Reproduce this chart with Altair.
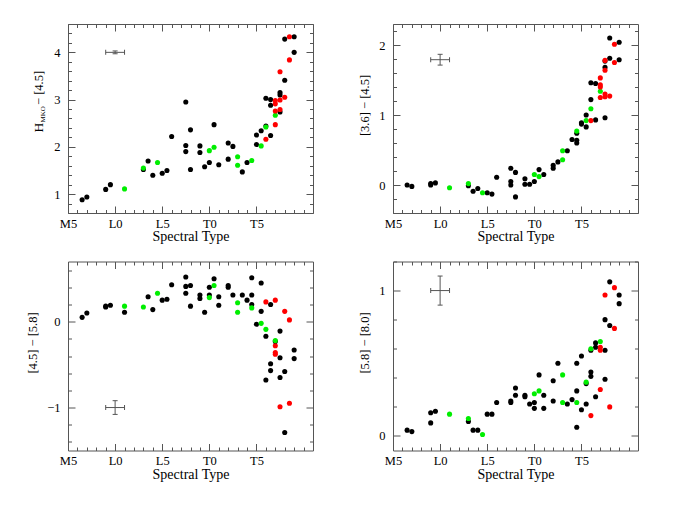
import math
import altair as alt
import pandas as pd

# ---------------- data ----------------
# x: spectral type as number (M5=5, L0=10, L5=15, T0=20, T5=25)
p1_black_x = [6.5, 7, 9, 9.5, 13, 13.5, 14, 15, 15.5, 16, 17.5, 17.5, 17.5, 18, 18, 19, 19, 19.5, 20, 20.5, 21, 22, 22.5, 22, 23.5, 24, 25, 25, 25.5, 26, 26.5, 26, 26.5, 26.5, 27.5, 27.5, 27.5, 28, 28, 29, 29]
p1_black_y = [0.88, 0.94, 1.10, 1.20, 1.52, 1.70, 1.40, 1.44, 1.50, 2.22, 2.95, 2.03, 1.90, 2.36, 1.52, 2.02, 1.88, 1.58, 1.67, 2.47, 1.62, 2.08, 2.01, 1.74, 1.47, 1.67, 2.25, 2.05, 2.34, 2.44, 2.24, 3.03, 3.00, 2.88, 3.15, 3.10, 2.74, 3.41, 4.28, 4.33, 4.00]
p1_green_x = [11, 13, 14.5, 20, 20.5, 23, 23, 24.5, 25.5, 26, 27]
p1_green_y = [1.11, 1.55, 1.67, 1.92, 1.99, 1.79, 1.61, 1.71, 2.02, 2.42, 2.67]
p1_red_x = [28.5, 28.5, 27.5, 27, 27, 27.5, 28, 27, 27.5, 27, 26]
p1_red_y = [4.33, 3.84, 3.59, 2.98, 2.91, 2.99, 3.05, 2.76, 2.79, 2.47, 2.16]

p2_black_x = [6.5, 7, 9, 9, 9.5, 13, 13.5, 14, 15, 15.5, 16, 17.5, 17.5, 17.5, 18, 18, 19, 19, 19.5, 20, 20.5, 21, 22, 22, 22.5, 23.5, 24, 24.5, 24.5, 24.5, 25, 25, 25.5, 25.5, 26, 26, 26.5, 26.5, 27.5, 27.5, 27.5, 28, 28, 29, 29]
p2_black_y = [0.0, -0.02, 0.02, 0.0, 0.03, -0.01, -0.09, -0.05, -0.11, -0.13, 0.11, 0.24, 0.05, 0.0, 0.18, -0.17, 0.09, 0.01, 0.01, 0.05, 0.22, 0.15, 0.28, 0.24, 0.33, 0.49, 0.65, 0.64, 0.60, 0.74, 0.89, 0.87, 1.0, 0.83, 1.22, 1.46, 1.45, 0.93, 1.77, 1.68, 0.96, 1.81, 2.10, 2.04, 1.79]
p2_green_x = [11, 13, 14.5, 20, 20.5, 23, 23, 24.5, 25.5, 26, 27]
p2_green_y = [-0.04, 0.02, -0.11, 0.15, 0.12, 0.49, 0.36, 0.77, 0.92, 1.09, 1.34]
p2_red_x = [26, 27, 27, 27, 27, 27.5, 27.5, 27.5, 27.5, 28, 28.5, 28.5]
p2_red_y = [0.92, 1.53, 1.43, 1.40, 1.25, 1.78, 1.64, 1.30, 1.26, 1.27, 2.01, 1.75]

p3_black_x = [6.5, 7, 9, 9, 9.5, 11, 13.5, 14, 15, 15.5, 16, 17.5, 17.5, 17.5, 18, 18, 19, 19, 19.5, 20, 20, 20.5, 21, 21, 22, 22, 22.5, 23.5, 24, 24.5, 24.5, 24.5, 25, 25.5, 25.5, 26, 26, 26.5, 26.5, 26.5, 27, 27.5, 27.5, 27.5, 28, 28, 29, 29]
p3_black_y = [0.05, 0.10, 0.17, 0.18, 0.19, 0.11, 0.29, 0.14, 0.25, 0.26, 0.43, 0.52, 0.41, 0.33, 0.42, 0.18, 0.31, 0.27, 0.11, 0.40, 0.31, 0.50, 0.29, 0.19, 0.42, 0.40, 0.31, 0.31, 0.25, 0.51, 0.31, 0.20, -0.03, 0.45, 0.12, -0.17, -0.68, 0.20, -0.49, -0.57, -0.23, -0.11, -0.42, -0.65, -0.58, -1.29, -0.33, -0.43]
p3_green_x = [11, 13, 14.5, 20.5, 20, 23, 23, 24.5, 25.5, 26, 27]
p3_green_y = [0.18, 0.17, 0.33, 0.42, 0.28, 0.22, 0.11, 0.16, -0.02, -0.09, -0.22]
p3_red_x = [26, 27, 27, 27, 27, 28, 28.5, 27.5, 28.5]
p3_red_y = [0.23, 0.25, -0.28, -0.36, -0.38, 0.12, 0.02, -0.99, -0.95]

p4_black_x = [6.5, 7, 9, 9, 9.5, 13, 13.5, 14, 15, 15.5, 16, 17.5, 17.5, 18, 18, 19, 19, 19.5, 20, 20, 20.5, 21, 21, 22, 22, 22.5, 23.5, 24, 24.5, 24.5, 24.5, 25, 25, 25.5, 25.5, 26, 26, 26, 26.5, 26.5, 26.5, 27.5, 27.5, 27.5, 28, 28, 29, 29]
p4_black_y = [0.04, 0.03, 0.16, 0.09, 0.17, 0.10, 0.04, 0.04, 0.15, 0.15, 0.23, 0.24, 0.23, 0.33, 0.28, 0.28, 0.27, 0.22, 0.23, 0.19, 0.42, 0.28, 0.19, 0.38, 0.24, 0.50, 0.22, 0.25, 0.50, 0.31, 0.06, 0.55, 0.18, 0.36, 0.22, 0.59, 0.44, 0.41, 0.64, 0.61, 0.27, 0.80, 0.59, 0.39, 1.06, 0.76, 0.97, 0.91]
p4_green_x = [11, 13, 14.5, 20, 20.5, 23, 23, 24.5, 25.5, 26, 27]
p4_green_y = [0.15, 0.12, 0.01, 0.29, 0.31, 0.42, 0.23, 0.23, 0.37, 0.60, 0.65]
p4_red_x = [26, 27, 27, 27, 27.5, 28, 28.5, 28.5]
p4_red_y = [0.14, 0.61, 0.59, 0.32, 0.97, 0.20, 1.02, 0.74]

# typical error bars: (x centre, y centre, x error, y error)
p1_err = [10, 4.0, 1.0, 0.03]
p2_err = [10, 1.79, 1.0, 0.077]
p3_err = [10, -1.0, 1.0, 0.08]
p4_err = [10, 1.0, 1.0, 0.10]

x_domain = [5, 31]
x_major = [5, 10, 15, 20, 25]
x_labels = ["M5", "L0", "L5", "T0", "T5"]
x_minor = [v for v in range(6, 31) if v not in x_major]

p1_ydom, p1_ymaj = [0.6, 4.6], [1, 2, 3, 4]
p2_ydom, p2_ymaj = [-0.4, 2.3], [0, 1, 2]
p3_ydom, p3_ymaj = [-1.5, 0.7], [-1, 0]
p4_ydom, p4_ymaj = [-0.1, 1.2], [0, 1]

p2_title = "[3.6] \u2212 [4.5]"
p3_title = "[4.5] \u2212 [5.8]"
p4_title = "[5.8] \u2212 [8.0]"

# ---------------- style ----------------
W, H = 245, 189
FRAME = "#555555"
FONT = "Liberation Serif"
MAJ, MIN = 7, 3.5

label_expr = " : ".join(
    f"datum.value == {v} ? '{l}'" for v, l in zip(x_major, x_labels)
) + " : ''"


def minor_vals(dom, majors):
    vals = []
    k = math.ceil(dom[0] * 5 - 1e-9)
    while k / 5 <= dom[1] + 1e-9:
        v = round(k / 5, 1)
        if all(abs(v - m) > 1e-6 for m in majors):
            vals.append(v)
        k += 1
    return vals


def tick_axis(orient, vals, size):
    # inward-pointing ticks: the axis is pulled into the plot by its tick length
    return alt.Axis(orient=orient, values=vals, tickSize=size, offset=-size,
                    ticks=True, tickColor=FRAME, tickWidth=1, labels=False,
                    domain=False, grid=False, title=None)


def panel(bx, by, gx, gy, rx, ry, ydom, ymaj, err, title_layers):
    xs = alt.Scale(domain=x_domain, nice=False, zero=False)
    ys = alt.Scale(domain=ydom, nice=False, zero=False)
    xaxis = alt.Axis(
        orient="bottom", values=x_major, labelExpr=label_expr,
        title="Spectral Type",
        ticks=False, domain=False, grid=False, labelFlush=False,
        labelPadding=4, titlePadding=0,
        labelFont=FONT, labelFontSize=12.5, labelColor="black",
        titleFont=FONT, titleFontSize=14, titleFontWeight="normal",
        titleColor="black")
    yaxis = alt.Axis(
        orient="left", values=ymaj, format="d", title=None,
        ticks=False, domain=False, grid=False, labelFlush=False,
        labelPadding=8, labelFont=FONT, labelFontSize=12.5,
        labelColor="black")

    def Xn(f):
        return alt.X(f, scale=xs, axis=None)

    def Yn(f):
        return alt.Y(f, scale=ys, axis=None)

    df = pd.DataFrame({
        "x": bx + gx + rx,
        "y": by + gy + ry,
        "c": ["k"] * len(bx) + ["g"] * len(gx) + ["r"] * len(rx),
    })
    pts = alt.Chart(df).mark_circle(size=26, opacity=1).encode(
        x=alt.X("x:Q", scale=xs, axis=xaxis),
        y=alt.Y("y:Q", scale=ys, axis=yaxis),
        color=alt.Color("c:N", scale=alt.Scale(domain=["k", "g", "r"],
                        range=["#000000", "#00ee00", "#ff0000"]), legend=None),
    )

    ymin = minor_vals(ydom, ymaj)

    def xt(vals, orient, size):
        d = pd.DataFrame({"v": vals, "w": [ydom[0]] * len(vals)})
        return alt.Chart(d).mark_point(opacity=0).encode(
            x=alt.X("v:Q", scale=xs, axis=tick_axis(orient, vals, size)),
            y=Yn("w:Q"))

    def yt(vals, orient, size):
        d = pd.DataFrame({"v": vals, "w": [x_domain[0]] * len(vals)})
        return alt.Chart(d).mark_point(opacity=0).encode(
            y=alt.Y("v:Q", scale=ys, axis=tick_axis(orient, vals, size)),
            x=Xn("w:Q"))

    ticks = [
        xt(x_major, "bottom", MAJ), xt(x_minor, "bottom", MIN),
        xt(x_major, "top", MAJ), xt(x_minor, "top", MIN),
        yt(ymaj, "left", MAJ), yt(ymin, "left", MIN),
        yt(ymaj, "right", MAJ), yt(ymin, "right", MIN),
    ]

    xc, yc, xe, ye = err
    e_h = pd.DataFrame({"x": [xc - xe], "x2": [xc + xe], "y": [yc]})
    e_v = pd.DataFrame({"x": [xc], "y": [yc - ye], "y2": [yc + ye]})
    ecap_x = pd.DataFrame({"x": [xc - xe, xc + xe], "y": [yc, yc]})
    ecap_y = pd.DataFrame({"x": [xc, xc], "y": [yc - ye, yc + ye]})
    eh = alt.Chart(e_h).mark_rule(color=FRAME, strokeWidth=1).encode(
        x=Xn("x:Q"), x2="x2:Q", y=Yn("y:Q"))
    ev = alt.Chart(e_v).mark_rule(color=FRAME, strokeWidth=1).encode(
        x=Xn("x:Q"), y=Yn("y:Q"), y2="y2:Q")
    cx = alt.Chart(ecap_x).mark_tick(color=FRAME, orient="vertical", size=5,
                                     thickness=1, opacity=1).encode(
        x=Xn("x:Q"), y=Yn("y:Q"))
    cy = alt.Chart(ecap_y).mark_tick(color=FRAME, orient="horizontal", size=5,
                                     thickness=1, opacity=1).encode(
        x=Xn("x:Q"), y=Yn("y:Q"))

    return alt.layer(pts, *ticks, eh, ev, cx, cy, *title_layers).resolve_axis(
        x="independent", y="independent").properties(width=W, height=H)


def ttext(text, x, y, size, align="center"):
    return alt.Chart(pd.DataFrame({"t": [text]})).mark_text(
        angle=270, align=align, baseline="alphabetic", font=FONT,
        fontSize=size, color="black").encode(
        text="t:N", x=alt.value(x), y=alt.value(y))


t1 = [
    ttext("H", -25, 108.5, 13.5, "left"),
    ttext("MKO", -23, 98.5, 7, "left"),
    ttext("\u2212 [4.5]", -25, 81, 12.5, "left"),
]
t2 = [ttext(p2_title, -24.5, H / 2 - 13, 12.5)]
t3 = [ttext(p3_title, -31.5, H / 2 - 13, 12.5)]
t4 = [ttext(p4_title, -24.5, H / 2 - 13, 12.5)]

c1 = panel(p1_black_x, p1_black_y, p1_green_x, p1_green_y, p1_red_x, p1_red_y,
           p1_ydom, p1_ymaj, p1_err, t1)
c2 = panel(p2_black_x, p2_black_y, p2_green_x, p2_green_y, p2_red_x, p2_red_y,
           p2_ydom, p2_ymaj, p2_err, t2)
c3 = panel(p3_black_x, p3_black_y, p3_green_x, p3_green_y, p3_red_x, p3_red_y,
           p3_ydom, p3_ymaj, p3_err, t3)
c4 = panel(p4_black_x, p4_black_y, p4_green_x, p4_green_y, p4_red_x, p4_red_y,
           p4_ydom, p4_ymaj, p4_err, t4)

chart = alt.concat(
    c1, c2, c3, c4, columns=2, bounds="flush",
    spacing={"row": 48.5, "column": 80},
).properties(
    padding={"left": 18, "top": 12, "right": 5, "bottom": 5},
    background="white",
).configure_view(stroke=FRAME, strokeWidth=1)

chart.save("out.html", embed_options={"renderer": "svg", "actions": False})
